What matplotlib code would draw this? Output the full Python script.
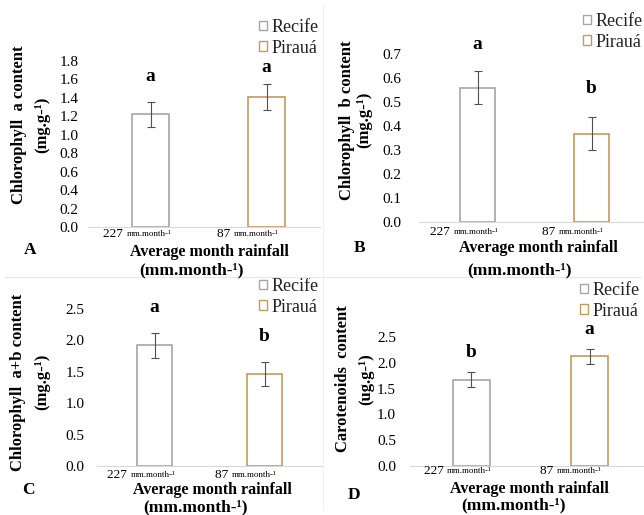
import matplotlib
matplotlib.use("Agg")
import matplotlib.pyplot as plt
import numpy as np

plt.rcParams["font.family"] = ["Liberation Serif", "DejaVu Serif"]

# data
sites = ["Recife", "Pirauá"]
rain_values = ["227", "87"]
rain_unit = "mm.month-\u00b9"

chl_a = [1.22, 1.41]
chl_a_err = [0.14, 0.14]
chl_b = [0.56, 0.367]
chl_b_err = [0.068, 0.069]
chl_ab = [1.92, 1.46]
chl_ab_err = [0.20, 0.19]
carot = [1.67, 2.13]
carot_err = [0.145, 0.145]

letters_a = ["a", "a"]
letters_b = ["a", "b"]
letters_ab = ["a", "b"]
letters_car = ["b", "a"]

edge_colors = ["#a6a6a6", "#c49a5c"]

W, H = 644, 515
fig = plt.figure(figsize=(W / 100, H / 100), dpi=100)


def fx(px):
    return px / W


def fy(py):
    return 1 - py / H


# separator lines between panels
fig.add_artist(plt.Line2D([fx(5), fx(640)], [fy(277), fy(277)], color="#e6e6e6", lw=0.8))
fig.add_artist(plt.Line2D([fx(323), fx(323)], [fy(5), fy(510)], color="#f0f0f0", lw=0.8))


def panel(vals, errs, sig, ymax, ystep, ylab, letter, L):
    c0, c1 = L["centers"]
    s = c1 - c0
    ax = fig.add_axes([fx(L["left"]), fy(L["y0"]), (L["right"] - L["left"]) / W,
                       (L["y0"] - L["ytop"]) / H])
    x = np.arange(len(vals))
    bars = ax.bar(x, vals, width=L["width"] / s, color="white",
                  edgecolor=edge_colors, linewidth=1.2, zorder=2)
    ax.errorbar(x, vals, yerr=errs, fmt="none", ecolor="#505050",
                elinewidth=0.8, capsize=2.8, capthick=0.8, zorder=3)
    for xi, v, e, t, off in zip(x, vals, errs, sig, L["sig_off"]):
        ax.annotate(t, (xi, v + e), xytext=(0, off * 0.72), textcoords="offset points",
                    ha="center", va="center", fontsize=14, fontweight="bold",
                    annotation_clip=False)
    ax.set_xlim((L["left"] - c0) / s, 1 + (L["right"] - c1) / s)
    ax.set_ylim(0, ymax)
    ticks = np.arange(0, ymax + ystep / 2, ystep)
    ax.set_yticks(ticks)
    ax.set_yticklabels(["%.1f" % t for t in ticks])
    ax.set_xticks([])
    ax.tick_params(axis="y", length=0, labelsize=11, pad=L["pad"])
    for sp in ["top", "right", "left"]:
        ax.spines[sp].set_visible(False)
    ax.spines["bottom"].set_color("#d9d9d9")
    ax.patch.set_alpha(0)

    # category labels: big number + small unit
    for cx, num, off in zip(L["centers"], rain_values, (-24, -33)):
        fig.text(fx(cx + off), fy(L["xt_y"]), num + " ", ha="right", va="center", fontsize=9.5)
        fig.text(fx(cx + off), fy(L["xt_y"]), rain_unit, ha="left", va="center", fontsize=6.5)

    fig.text(fx(L["xl"][0]), fy(L["xl"][1]), "Average month rainfall",
             ha="center", va="center", fontsize=11.5, fontweight="bold")
    fig.text(fx(L["xl2"][0]), fy(L["xl2"][1]), "(mm.month-\u00b9)",
             ha="center", va="center", fontsize=12.5, fontweight="bold")
    fig.text(fx(L["yl"][0]), fy(L["yl"][2]), ylab[0], rotation=90,
             ha="center", va="center", fontsize=12, fontweight="bold")
    fig.text(fx(L["yl"][1]), fy(L["yl"][2]), ylab[1], rotation=90,
             ha="center", va="center", fontsize=12, fontweight="bold")
    fig.text(fx(L["letter"][0]), fy(L["letter"][1]), letter,
             ha="center", va="center", fontsize=12.5, fontweight="bold")
    leg = ax.legend(bars, sites, loc="upper left",
                    bbox_to_anchor=(fx(L["leg"][0]), fy(L["leg"][1])),
                    bbox_transform=fig.transFigure, frameon=False, fontsize=13,
                    handlelength=0.45, handleheight=0.45, handletextpad=0.25,
                    labelspacing=0.2, borderpad=0, borderaxespad=0)
    for txt in leg.get_texts():
        txt.set_color("#222222")
    for h in leg.legend_handles:
        h.set_linewidth(1.0)
    return ax


layout_a = dict(left=88, right=320, y0=227, ytop=61, centers=(150.5, 266.5), width=37,
                pad=7, xt_y=234, xl=(209, 252), xl2=(192, 270), yl=(19, 42, 125),
                letter=(30, 250), leg=(259, 19), sig_off=(25, 17))
layout_b = dict(left=419, right=644, y0=222, ytop=54, centers=(477.5, 591.5), width=35,
                pad=13, xt_y=232, xl=(538, 248), xl2=(520, 270), yl=(347, 364, 120),
                letter=(360, 248), leg=(583, 13), sig_off=(27, 29))
layout_c = dict(left=97, right=322, y0=466, ytop=309, centers=(154.5, 264.5), width=35,
                pad=9, xt_y=475, xl=(212, 490), xl2=(195, 507), yl=(18, 42, 382),
                letter=(28, 490), leg=(259, 278), sig_off=(25, 26))
layout_d = dict(left=410, right=644, y0=466, ytop=337, centers=(471, 589.5), width=37,
                pad=10, xt_y=471, xl=(529, 489), xl2=(514, 505), yl=(343, 366, 379),
                letter=(354, 495), leg=(580, 282), sig_off=(20, 19))

panel(chl_a, chl_a_err, letters_a, 1.8, 0.2,
      ("Chlorophyll  a content", "(mg.g-\u00b9)"), "A", layout_a)
panel(chl_b, chl_b_err, letters_b, 0.7, 0.1,
      ("Chlorophyll  b content", "(mg.g-\u00b9)"), "B", layout_b)
panel(chl_ab, chl_ab_err, letters_ab, 2.5, 0.5,
      ("Chlorophyll  a+b content", "(mg.g-\u00b9)"), "C", layout_c)
panel(carot, carot_err, letters_car, 2.5, 0.5,
      ("Carotenoids  content", "(ug.g-\u00b9)"), "D", layout_d)

fig.savefig("out.png", dpi=100)
